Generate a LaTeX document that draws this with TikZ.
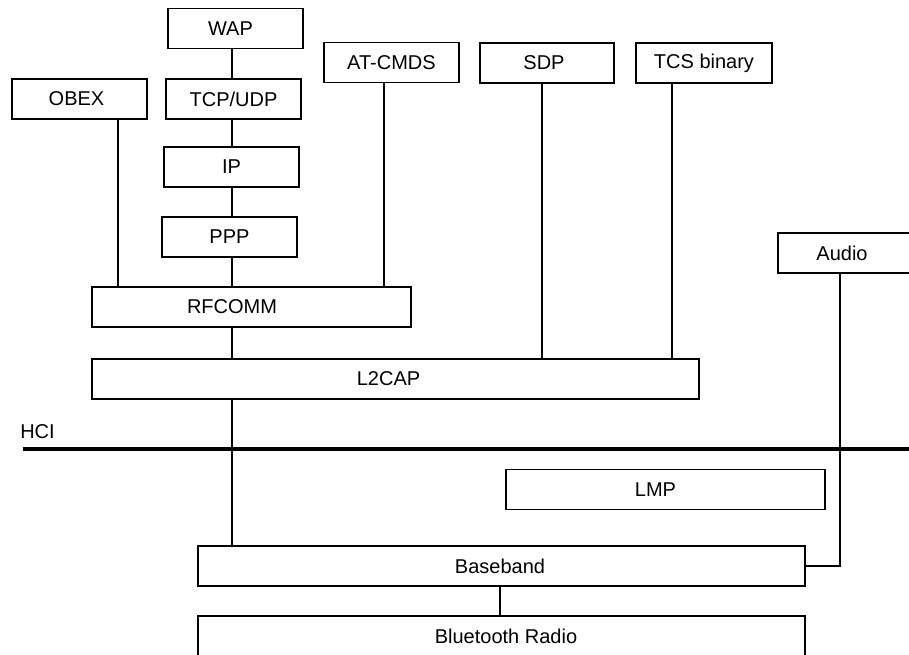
\documentclass[tikz,border=0pt]{standalone}
\usepackage{fontspec}
\setmainfont{Liberation Sans}
\begin{document}
\begin{tikzpicture}[x=1pt,y=-1pt,
  box/.style={draw, line width=1.6pt, rectangle, inner sep=0pt, minimum width=#1, minimum height=40pt},
  box/.default=135pt,
  txt/.style={font=\fontsize{20}{24}\selectfont, inner sep=0pt},
  link/.style={line width=1.6pt},
  hciline/.style={line width=3.4pt}]
\useasboundingbox (0,0) rectangle (909,654);
% boxes
\node[box, label={[txt,xshift=-5pt]center:WAP}] (wap) at (235.5,28.5) {};
\node[box, label={[txt]center:TCP/UDP}] (tcp) at (233.5,99) {};
\node[box, label={[txt]center:IP}] (ip) at (231.5,167) {};
\node[box, label={[txt]center:PPP}] (ppp) at (229.5,237) {};
\node[box, label={[txt,xshift=-3pt]center:OBEX}] (obex) at (79.5,99) {};
\node[box, label={[txt]center:AT-CMDS}] (at) at (391.5,62.5) {};
\node[box=134pt, label={[txt,xshift=-3pt]center:SDP}] (sdp) at (547,63) {};
\node[box=136pt, label={[txt]center:TCS binary}] (tcs) at (704,63) {};
\node[box=132pt, label={[txt,xshift=-2pt]center:Audio}] (audio) at (844,253) {};
\node[box=319pt, label={[txt,xshift=-19.5pt]center:RFCOMM}] (rfcomm) at (251.5,307) {};
\node[box=607pt, label={[txt,xshift=-7pt]center:L2CAP}] (l2cap) at (395.5,379) {};
\node[box=319pt, label={[txt,xshift=-10pt]center:LMP}] (lmp) at (665.5,489.5) {};
\node[box=607pt, label={[txt,xshift=-1.5pt]center:Baseband}] (baseband) at (501.5,566) {};
\node[box=607pt, label={[txt,xshift=4.5pt]center:Bluetooth Radio}] (radio) at (501.5,636) {};
% HCI
\coordinate (hciL) at (23,449);
\coordinate (hciR) at (912,449);
\draw[hciline] (hciL) -- (hciR);
\node[txt] (hci) at (37.5,432) {HCI};
% columns
\coordinate (c1) at (232,0);
\coordinate (c2) at (118,0);
\coordinate (c3) at (384,0);
\coordinate (c4) at (542,0);
\coordinate (c5) at (672,0);
\coordinate (c6) at (840,0);
\coordinate (c7) at (500,0);
% connectors
\draw[link] (wap.south -| c1) -- (tcp.north -| c1);
\draw[link] (tcp.south -| c1) -- (ip.north -| c1);
\draw[link] (ip.south -| c1) -- (ppp.north -| c1);
\draw[link] (ppp.south -| c1) -- (rfcomm.north -| c1);
\draw[link] (rfcomm.south -| c1) -- (l2cap.north -| c1);
\draw[link] (l2cap.south -| c1) -- (baseband.north -| c1);
\draw[link] (obex.south -| c2) -- (rfcomm.north -| c2);
\draw[link] (at.south -| c3) -- (rfcomm.north -| c3);
\draw[link] (sdp.south -| c4) -- (l2cap.north -| c4);
\draw[link] (tcs.south -| c5) -- (l2cap.north -| c5);
\draw[link] (audio.south -| c6) |- (baseband.east);
\draw[link] (baseband.south -| c7) -- (radio.north -| c7);
\end{tikzpicture}
\end{document}
